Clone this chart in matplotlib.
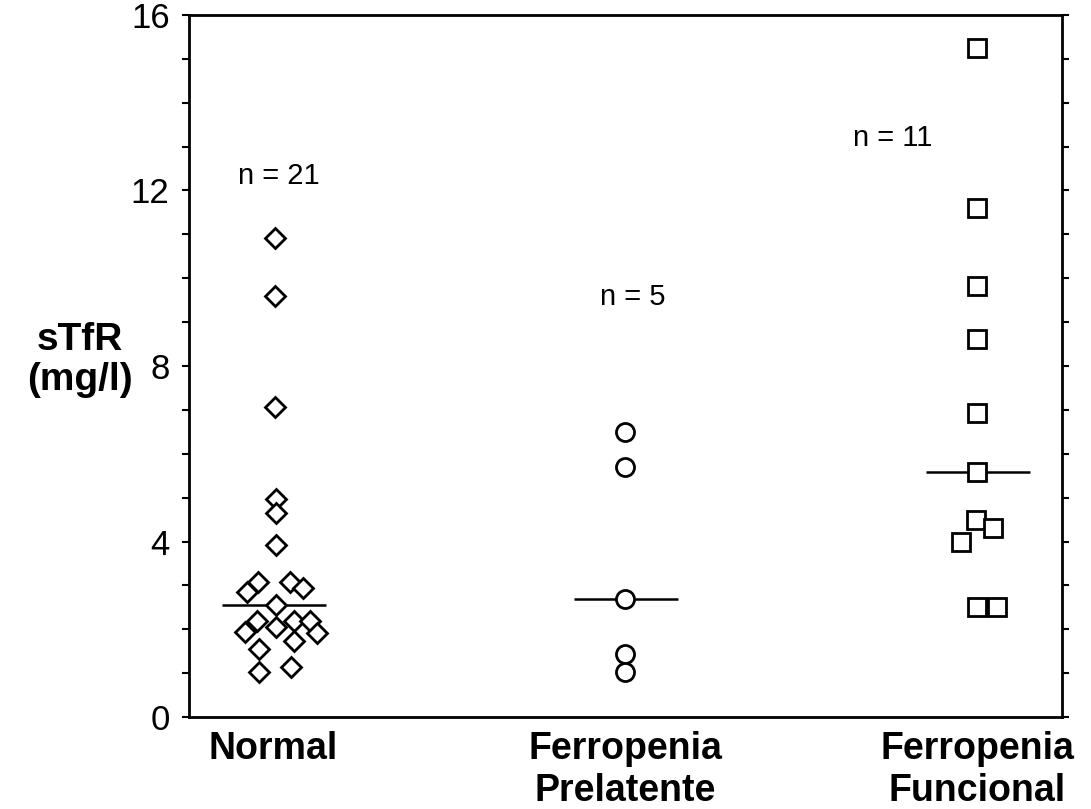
import numpy as np
import matplotlib
matplotlib.use("Agg")
import matplotlib.pyplot as plt

plt.rcParams['font.family'] = ['Liberation Sans', 'DejaVu Sans']

# ---- datos ----
grupos = ["Normal", "Ferropenia\nPrelatente", "Ferropenia\nFuncional"]
n_textos = ["n = 21", "n = 5", "n = 11"]

# Normal: (desplazamiento horizontal, valor)
normal_dx = [0.003, 0.003, 0.003, 0.006, 0.006, 0.006,
             -0.043, -0.074, 0.048, 0.085, 0.006,
             -0.048, -0.080, 0.006, 0.057, 0.105, 0.125,
             0.057, -0.040, -0.040, 0.051]
normal_val = [10.91, 9.59, 7.07, 4.98, 4.64, 3.93,
              3.07, 2.84, 3.07, 2.95, 2.55,
              2.18, 1.93, 2.05, 2.18, 2.18, 1.91,
              1.73, 1.55, 1.02, 1.14]

prelat_dx = [0.0, 0.0, 0.0, 0.0, 0.0]
prelat_val = [6.50, 5.70, 2.68, 1.43, 1.02]

func_dx = [0.0, 0.0, 0.0, 0.0, 0.0, 0.0, -0.003, 0.045, -0.048, 0.0, 0.054]
func_val = [15.25, 11.59, 9.82, 8.61, 6.93, 5.59, 4.48, 4.30, 4.00, 2.50, 2.50]

n_pos_x = [1.014, 2.02, 2.76]
n_pos_y = [12.34, 9.57, 13.2]

fig = plt.figure(figsize=(10.91, 8.09), dpi=100)
ax = fig.add_axes([0.1732, 0.1137, 0.8002, 0.8678])

datos = [(normal_dx, normal_val, 'D', 10.5),
         (prelat_dx, prelat_val, 'o', 13),
         (func_dx, func_val, 's', 12.5)]

for i, (dx, vals, marcador, tam) in enumerate(datos):
    x = 1 + i + np.array(dx)
    ax.plot(x, vals, linestyle='none', marker=marcador, markersize=tam,
            markerfacecolor='white', markeredgecolor='black',
            markeredgewidth=2.0, zorder=3)
    mediana = np.median(vals)
    ax.hlines(mediana, 1 + i - 0.145, 1 + i + 0.15, colors='black',
              linewidth=1.8, zorder=2)
    ax.text(n_pos_x[i], n_pos_y[i], n_textos[i], ha='center', va='center',
            fontsize=21)

ax.set_xlim(0.76, 3.24)
ax.set_ylim(0, 16)
ax.set_yticks([0, 4, 8, 12, 16])
ax.set_yticks(np.arange(0, 17, 1), minor=True)
ax.set_xticks([1, 2, 3])
ax.set_xticklabels(grupos, fontsize=27, fontweight='bold', linespacing=1.2)

ax.tick_params(axis='y', which='both', direction='out', length=5, width=1.5,
               right=True, labelsize=25, pad=9)
ax.tick_params(axis='x', length=0, pad=10)

for lado in ['left', 'right', 'top', 'bottom']:
    ax.spines[lado].set_linewidth(2.0)

fig.text(0.073, 0.555, "sTfR\n(mg/l)", ha='center', va='center',
         fontsize=28, fontweight='bold', linespacing=1.15)

fig.savefig("out.png", dpi=100)
